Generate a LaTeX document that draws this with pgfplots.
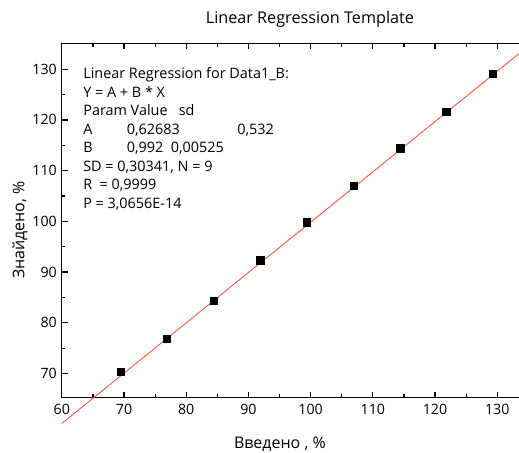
\documentclass[border=0pt]{standalone}
\usepackage{fontspec}
\setmainfont{Open Sans}
\usepackage{pgfplots}
\pgfplotsset{compat=1.18}
\definecolor{regline}{RGB}{240,90,60}
\begin{document}
\fontsize{14.4}{17}\selectfont
\begin{tikzpicture}
\begin{axis}[
 width=457pt, height=354.4pt, scale only axis,
 xmin=60, xmax=133.5, ymin=65.2, ymax=135.1,
 axis y line*=left, axis x line=box,
 xtick={60,70,...,130}, ytick={70,80,...,130},
 minor x tick num=1, minor y tick num=1,
 tick align=inside,
 major tick length=6pt, minor tick length=3.5pt,
 axis line style={line width=1.2pt},
 every tick/.style={black, line width=1.2pt},
 tick label style={font=\fontsize{14.2}{17}\selectfont},
 xticklabel style={yshift=-1pt},
 /pgf/number format/assume math mode=true,
 clip=false,
]
\addplot[regline, line width=0.9pt] coordinates {(60,60.15) (133.5,133.06)};
\addplot[only marks, mark=square*, mark size=3.7pt, black] coordinates {
(69.5,70.3) (76.9,76.9) (84.4,84.4) (91.9,92.3) (99.4,99.8) (106.9,107.0) (114.4,114.4) (121.8,121.6) (129.3,129.1)};
\end{axis}
\begin{scope}[every node/.style={inner sep=0pt, anchor=base west}]
\node at ([shift={(21.3pt,-35.5pt)}]current axis.north west) {Linear Regression for Data1\_B:};
\node at ([shift={(21.3pt,-54pt)}]current axis.north west) {Y = A + B * X};
\node at ([shift={(21.3pt,-72.5pt)}]current axis.north west) {Param Value \ \ sd};
\node at ([shift={(21.3pt,-91pt)}]current axis.north west) {A};
\node at ([shift={(64.9pt,-91pt)}]current axis.north west) {0,62683};
\node at ([shift={(175.2pt,-91pt)}]current axis.north west) {0,532};
\node at ([shift={(21.3pt,-109.5pt)}]current axis.north west) {B};
\node at ([shift={(64.9pt,-109.5pt)}]current axis.north west) {0,992 \ 0,00525};
\node at ([shift={(21.3pt,-128pt)}]current axis.north west) {SD = 0,30341, N = 9};
\node at ([shift={(21.3pt,-146.5pt)}]current axis.north west) {R\ \ = 0,9999};
\node at ([shift={(21.3pt,-165pt)}]current axis.north west) {P = 3,0656E-14};
\end{scope}
\node[inner sep=0pt, font=\fontsize{16.2}{19}\selectfont] at ([shift={(248pt,24pt)}]current axis.north west) {Linear Regression Template};
\node[inner sep=0pt, font=\fontsize{16}{19}\selectfont] at ([shift={(218pt,-46pt)}]current axis.south west) {Введено , \%};
\node[inner sep=0pt, rotate=90, font=\fontsize{16}{19}\selectfont] at ([shift={(-42pt,167.7pt)}]current axis.south west) {Знайдено, \%};
\pgfresetboundingbox
\path ([shift={(-61.8pt,-54.3pt)}]current axis.south west) rectangle ([shift={(0pt,43.3pt)}]current axis.north east);
\end{tikzpicture}
\end{document}
